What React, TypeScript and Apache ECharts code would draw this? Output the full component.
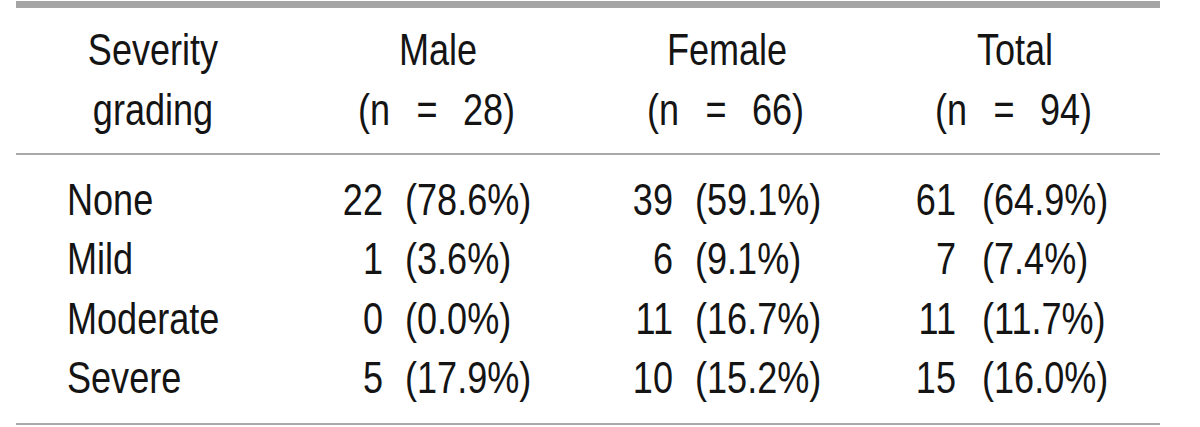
import React, { useEffect, useRef } from "react";
import * as echarts from "echarts";

// ---- data ----
const stubHeader = ["Severity", "grading"];
const groups = ["Male", "Female", "Total"];
const groupN = [28, 66, 94];
const categories = ["None", "Mild", "Moderate", "Severe"];
const maleCounts = [22, 1, 0, 5];
const malePct = [78.6, 3.6, 0.0, 17.9];
const femaleCounts = [39, 6, 11, 10];
const femalePct = [59.1, 9.1, 16.7, 15.2];
const totalCounts = [61, 7, 11, 15];
const totalPct = [64.9, 7.4, 11.7, 16.0];

// ---- layout ----
const W = 1200;
const H = 427;
const FONT_FAMILY = "'Liberation Sans', Arial, sans-serif";
const FONT_SIZE = 44;
const SX = 0.82;
const TEXT_COLOR = "#141414";
const colCenters = [153, 438, 727, 1015];
const countAnchor = [383, 673, 956];
const pctAnchor = [405, 695, 982];
const labelX = 67;
const headerY = [50.5, 110.5];
const rowY0 = 200;
const rowStep = 59.5;

function txt(text: string, x: number, y: number, align: string) {
  return {
    type: "text",
    x,
    y,
    scaleX: SX,
    scaleY: 1,
    silent: true,
    style: {
      text,
      fill: TEXT_COLOR,
      fontSize: FONT_SIZE,
      fontFamily: FONT_FAMILY,
      fontWeight: "normal",
      align,
      textAlign: align,
      verticalAlign: "middle",
      textVerticalAlign: "middle",
    },
  };
}

export default function App() {
  const ref = useRef<HTMLDivElement>(null);
  useEffect(() => {
    if (!ref.current) return;
    const chart = echarts.init(ref.current, undefined, { renderer: "svg", width: W, height: H });
    const els: any[] = [];

    // rules
    els.push({ type: "rect", shape: { x: 16, y: 1, width: 1144, height: 7 }, style: { fill: "#a5a5a5" }, silent: true });
    els.push({ type: "rect", shape: { x: 16, y: 153, width: 1144, height: 2 }, style: { fill: "#a9a9a9" }, silent: true });
    els.push({ type: "rect", shape: { x: 16, y: 423, width: 1144, height: 2 }, style: { fill: "#a9a9a9" }, silent: true });

    // header stub
    stubHeader.forEach((t, i) => els.push(txt(t, colCenters[0], headerY[i], "center")));
    // group headers
    groups.forEach((g, i) => {
      const c = colCenters[i + 1];
      els.push(txt(g, c, headerY[0], "center"));
      els.push(txt("(n", c - 48, headerY[1], "right"));
      els.push(txt("=", c - 11, headerY[1], "center"));
      els.push(txt(`${groupN[i]})`, c + 25, headerY[1], "left"));
    });

    const counts = [maleCounts, femaleCounts, totalCounts];
    const pcts = [malePct, femalePct, totalPct];
    categories.forEach((cat, r) => {
      const y = rowY0 + r * rowStep;
      els.push(txt(cat, labelX, y, "left"));
      for (let g = 0; g < 3; g++) {
        els.push(txt(String(counts[g][r]), countAnchor[g], y, "right"));
        els.push(txt(`(${pcts[g][r].toFixed(1)}%)`, pctAnchor[g], y, "left"));
      }
    });

    chart.setOption({
      animation: false,
      backgroundColor: "#ffffff",
      graphic: { elements: els },
    });
    return () => chart.dispose();
  }, []);
  return (
    <div
      ref={ref}
      style={{ position: "fixed", left: 0, top: 0, width: W, height: H, background: "#fff" }}
    />
  );
}
